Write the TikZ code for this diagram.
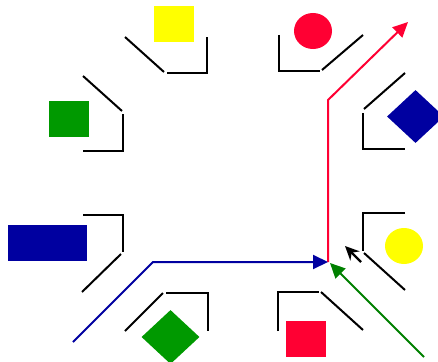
\documentclass[tikz,border=0pt]{standalone}
\usetikzlibrary{arrows.meta, shapes.geometric}
\definecolor{sigred}{RGB}{255, 0, 51}
\definecolor{sigblue}{RGB}{0, 0, 160}
\definecolor{siggreen}{RGB}{0, 153, 0}
\definecolor{pathgreen}{RGB}{0, 128, 0}
\definecolor{sigyellow}{RGB}{255, 255, 0}

\begin{document}
\begin{tikzpicture}[
  x=1pt, y=-1pt,
  curb/.style={draw=black, line width=2pt},
  sqmark/.style={rectangle, inner sep=0pt, minimum width=40pt, minimum height=36pt},
  dotmark/.style={ellipse, inner sep=0pt, minimum width=38pt, minimum height=36pt},
  dmdmark/.style={diamond, inner sep=0pt, minimum width=57pt, minimum height=53pt},
  route/.style={line width=2pt, -{Triangle[length=15pt, width=14pt]}}
]
  \useasboundingbox (0,0) rectangle (438,361);

  % markers
  \node[sqmark, fill=sigyellow] (topsq) at (174,24) {};
  \node[sqmark, fill=siggreen] (leftsq) at (69,118.5) {};
  \node[sqmark, fill=sigblue, minimum width=79pt] (leftbar) at (47.5,243) {};
  \node[sqmark, fill=sigred] (botsq) at (306,339) {};
  \node[dotmark, fill=sigred] (topdot) at (313,31) {};
  \node[dotmark, fill=sigyellow] (rightdot) at (404,246) {};
  \node[dmdmark, fill=sigblue] (rightdmd) at (415.5,116.5) {};
  \node[dmdmark, fill=siggreen, minimum width=58pt, minimum height=54pt] (botdmd) at (170.5,337) {};

  % curbs
  \draw[curb] (125,37) -- (164,72);
  \draw[curb] (167,73) -- (207,73) -- (207,37);
  \draw[curb] (83,76) -- (122,111);
  \draw[curb] (123,114) -- (123,151) -- (83,151);
  \draw[curb] (83,215) -- (123,215) -- (123,252);
  \draw[curb] (121,254) -- (82,292);
  \draw[curb] (125,331) -- (163,293);
  \draw[curb] (166,293) -- (208,293) -- (208,331);
  \draw[curb] (278,331) -- (278,292) -- (319,292);
  \draw[curb] (321,292) -- (363,330);
  \draw[curb] (405,213) -- (363,213) -- (363,251);
  \draw[curb] (364,253) -- (405,290);
  \draw[curb] (364,109) -- (405,73);
  \draw[curb] (363,113) -- (363,149) -- (405,149);
  \draw[curb] (279,35) -- (279,71) -- (320,71);
  \draw[curb] (322,70) -- (363,35);

  % routes
  \coordinate (jn) at (328,262);
  \coordinate (redbend) at (328,100);
  \coordinate (redend) at (408,22);
  \coordinate (bluestart) at (73,342);
  \coordinate (bluebend) at (153,262);
  \coordinate (greenstart) at (424,357);
  \coordinate (greenend) at (330,263);
  \coordinate (blkstart) at (361,262);
  \coordinate (blkend) at (345,246);

  \draw[route, sigred] (jn) -- (redbend) -- (redend);
  \draw[route, sigblue] (bluestart) -- (bluebend) -- (jn);
  \draw[route, pathgreen] (greenstart) -- (greenend);
  \draw[line width=2.4pt, -{Stealth[length=14pt, width=13pt]}] (blkstart) -- (blkend);
\end{tikzpicture}
\end{document}
